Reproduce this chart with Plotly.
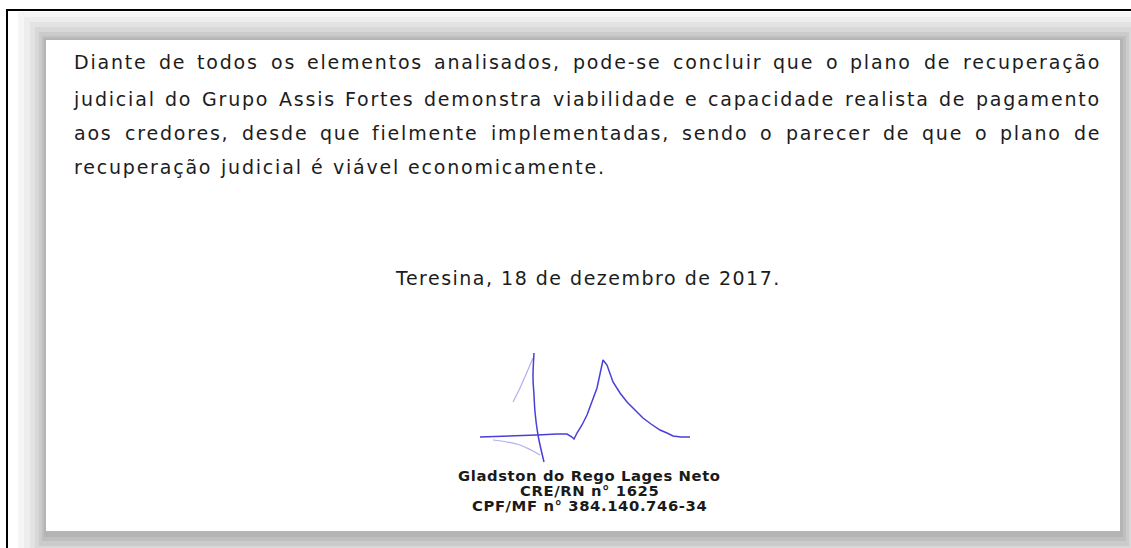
import unicodedata
import plotly.graph_objects as go

# ---------------- content ----------------
body_lines = [
    "Diante de todos os elementos analisados, pode-se concluir que o plano de recuperação",
    "judicial do Grupo Assis Fortes demonstra viabilidade e capacidade realista de pagamento",
    "aos credores, desde que fielmente implementadas, sendo o parecer de que o plano de",
    "recuperação judicial é viável economicamente.",
]
justified = [True, True, True, False]
date_line = "Teresina, 18 de dezembro de 2017."
signer_lines = ["Gladston do Rego Lages Neto", "CRE/RN n° 1625", "CPF/MF n° 384.140.746-34"]

# signature strokes (pixel coordinates of the scanned page)
sig_main_x = [480, 500, 520, 537, 557, 567, 572, 574, 577, 582, 587, 592, 597, 600, 603,
              607, 613, 620, 627, 635, 643, 651, 660, 667, 673, 681, 690]
sig_main_y = [437, 436.5, 436, 435, 434, 434, 437, 439, 433, 425, 415, 402, 388, 374, 360,
              365, 382, 393, 402, 410, 418, 424, 430, 433, 436, 437, 437]
sig_vert_x = [534, 533, 534, 535, 538, 544]
sig_vert_y = [353, 378, 395, 412, 435, 462]
sig_faint1_x = [513, 520, 527, 533]
sig_faint1_y = [402, 388, 372, 358]
sig_faint2_x = [493, 507, 520, 531, 540]
sig_faint2_y = [440, 442, 445, 450, 455]

# ---------------- layout constants ----------------
W, H = 1131, 548
FONT = "DejaVu Sans"
SIZE = 19
LS = 1.8
TEXT_COLOR = "#1c1c1c"
LEFT, RIGHT = 75, 1100
LINE_Y = [62, 99, 133, 167]

ADV = {' ': 651, ',': 651, '-': 739, '.': 651, '/': 690, 'º': 797, '°': 1042,
       'A': 1401, 'B': 1405, 'C': 1430, 'D': 1577, 'E': 1294, 'F': 1178, 'G': 1589, 'H': 1540,
       'I': 604, 'J': 604, 'K': 1343, 'L': 1141, 'M': 1767, 'N': 1532, 'O': 1612, 'P': 1235,
       'Q': 1612, 'R': 1423, 'S': 1300, 'T': 1251, 'U': 1499, 'V': 1401, 'W': 2025, 'X': 1403,
       'Y': 1251, 'Z': 1403,
       'a': 1255, 'b': 1300, 'c': 1126, 'd': 1300, 'e': 1260, 'f': 721, 'g': 1300, 'h': 1298,
       'i': 569, 'j': 569, 'k': 1186, 'l': 569, 'm': 1995, 'n': 1298, 'o': 1253, 'p': 1300,
       'q': 1300, 'r': 842, 's': 1067, 't': 803, 'u': 1298, 'v': 1212, 'w': 1675, 'x': 1212,
       'y': 1212, 'z': 1075}


def base_char(ch):
    d = unicodedata.normalize('NFD', ch)
    return d[0] if d else ch


def measure(word, size, ls):
    tot = 0
    for ch in word:
        if ch.isdigit():
            tot += 1303
        else:
            tot += ADV.get(ch, ADV.get(base_char(ch), 1200))
    return tot / 2048 * size + (len(word) - 1) * ls


def styled(txt, ls):
    return '<span style="letter-spacing:%.2fpx">%s</span>' % (ls, txt)


fig = go.Figure()

# ---------------- page, shadow, frame ----------------
shadow_layers = [
    (18, 12, 1145, 565, '#f5f5f5'),
    (24, 17, 1142, 560, '#ededed'),
    (30, 22, 1138, 556, '#e3e3e3'),
    (35, 27, 1134, 551, '#d8d8d8'),
    (39, 32, 1129, 546, '#cbcbcb'),
    (42, 36, 1126, 541, '#bfbfbf'),
    (44, 38, 1123, 537, '#b4b4b4'),
]
shapes = []
for x0, y0, x1, y1, c in shadow_layers:
    shapes.append(dict(type='rect', xref='x', yref='y', x0=x0, y0=y0, x1=x1, y1=y1,
                       fillcolor=c, line=dict(width=0), layer='below'))
shapes.append(dict(type='rect', xref='x', yref='y', x0=46, y0=40, x1=1120, y1=531,
                   fillcolor='white', line=dict(width=0), layer='below'))
# black frame (left and top)
shapes.append(dict(type='line', xref='x', yref='y', x0=7, y0=10, x1=7, y1=560,
                   line=dict(color='black', width=2)))
shapes.append(dict(type='line', xref='x', yref='y', x0=6, y0=10, x1=1140, y1=10,
                   line=dict(color='black', width=2)))

# ---------------- body text ----------------
annotations = []
for line, just, ly in zip(body_lines, justified, LINE_Y):
    words = line.split(' ')
    widths = [measure(w, SIZE, LS) for w in words]
    if just:
        gap = (RIGHT - LEFT - sum(widths)) / (len(words) - 1)
    else:
        gap = 10.0
    x = LEFT
    for w, wd in zip(words, widths):
        annotations.append(dict(x=x + wd / 2, y=ly, xref='x', yref='y', text=styled(w, LS),
                                showarrow=False, xanchor='center', yanchor='middle',
                                font=dict(family=FONT, size=SIZE, color=TEXT_COLOR)))
        x += wd + gap

annotations.append(dict(x=588, y=278, xref='x', yref='y', text=styled(date_line, 1.5),
                        showarrow=False, xanchor='center', yanchor='middle',
                        font=dict(family=FONT, size=SIZE, color=TEXT_COLOR)))

for txt, yy in zip(signer_lines, [475, 490, 505]):
    annotations.append(dict(x=589, y=yy, xref='x', yref='y', text='<b>' + styled(txt, 0.6) + '</b>',
                            showarrow=False, xanchor='center', yanchor='middle',
                            font=dict(family=FONT, size=14.8, color='#1a1a1a')))

# ---------------- signature ----------------
pen = '#4a3fd8'
faint = '#b3aef0'
fig.add_trace(go.Scatter(x=sig_faint1_x, y=sig_faint1_y, mode='lines',
                         line=dict(color=faint, width=1.2, shape='spline'), hoverinfo='skip'))
fig.add_trace(go.Scatter(x=sig_faint2_x, y=sig_faint2_y, mode='lines',
                         line=dict(color=faint, width=1.2, shape='spline'), hoverinfo='skip'))
fig.add_trace(go.Scatter(x=sig_vert_x, y=sig_vert_y, mode='lines',
                         line=dict(color=pen, width=1.5, shape='spline'), hoverinfo='skip'))
fig.add_trace(go.Scatter(x=sig_main_x, y=sig_main_y, mode='lines',
                         line=dict(color=pen, width=1.5, shape='linear'), hoverinfo='skip'))

fig.update_layout(
    width=W, height=H, margin=dict(l=0, r=0, t=0, b=0),
    paper_bgcolor='white', plot_bgcolor='white', showlegend=False,
    xaxis=dict(range=[0, W], visible=False, fixedrange=True),
    yaxis=dict(range=[H, 0], visible=False, fixedrange=True),
    shapes=shapes, annotations=annotations,
)
fig.write_html("out.html", config={'displayModeBar': False},
               post_script="document.body.style.margin='0';document.body.style.overflow='hidden';")
